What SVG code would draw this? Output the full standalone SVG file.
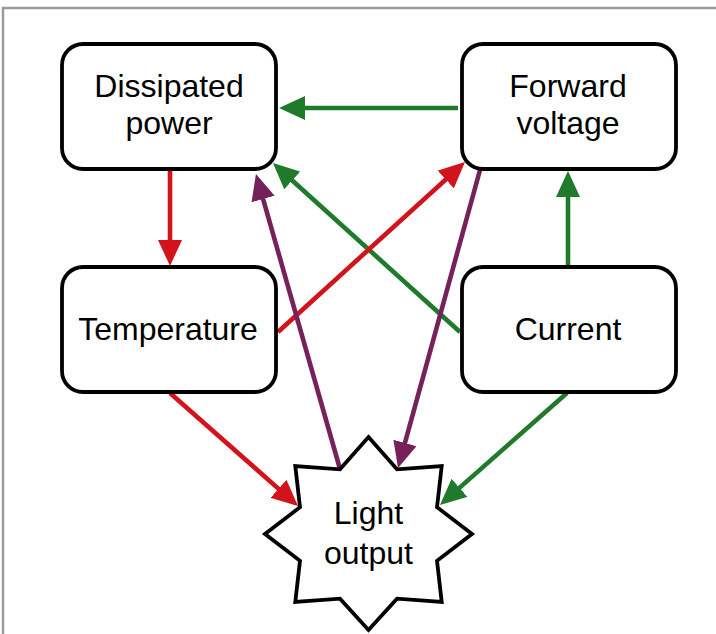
<svg xmlns="http://www.w3.org/2000/svg" width="716" height="634" viewBox="0 0 716 634">
  <style>
    .box { fill: #ffffff; stroke: #000000; stroke-width: 3.8; }
    .lbl { font-family: "Liberation Sans", Arial, sans-serif; font-size: 32px; fill: #000000; text-anchor: middle; }
    .c { fill: none; stroke-width: 4.6; stroke-linecap: butt; }
    .red { stroke: #d3131c; }
    .green { stroke: #1f7a2b; }
    .purple { stroke: #76225a; }
  </style>
  <defs>
    <marker id="ah-red" markerUnits="userSpaceOnUse" markerWidth="26" markerHeight="24" refX="16" refY="12" orient="auto">
      <path d="M0,0 L26,12 L0,24 z" fill="#d3131c"/>
    </marker>
    <marker id="ah-green" markerUnits="userSpaceOnUse" markerWidth="26" markerHeight="24" refX="16" refY="12" orient="auto">
      <path d="M0,0 L26,12 L0,24 z" fill="#1f7a2b"/>
    </marker>
    <marker id="ah-purple" markerUnits="userSpaceOnUse" markerWidth="26" markerHeight="24" refX="16" refY="12" orient="auto">
      <path d="M0,0 L26,12 L0,24 z" fill="#76225a"/>
    </marker>
  </defs>

  <rect x="0" y="0" width="716" height="634" fill="#ffffff"/>
  <polyline points="3,634 3,8 716,8" fill="none" stroke="#9a9a9a" stroke-width="2.5"/>

  <g id="connectors">
    <line class="c red" x1="170" y1="171" x2="170" y2="256" marker-end="url(#ah-red)"/>
    <line class="c green" x1="458" y1="108" x2="289" y2="108" marker-end="url(#ah-green)"/>
    <line class="c green" x1="568" y1="267" x2="568" y2="181" marker-end="url(#ah-green)"/>
    <line class="c green" x1="460" y1="332" x2="280.4" y2="169.7" marker-end="url(#ah-green)"/>
    <line class="c red" x1="278" y1="332" x2="457.6" y2="168.7" marker-end="url(#ah-red)"/>
    <line class="c purple" x1="340" y1="469" x2="258.7" y2="183.6" marker-end="url(#ah-purple)"/>
    <line class="c purple" x1="480" y1="170" x2="400.7" y2="458.4" marker-end="url(#ah-purple)"/>
    <line class="c red" x1="170" y1="393" x2="290.5" y2="499.4" marker-end="url(#ah-red)"/>
    <line class="c green" x1="567" y1="393" x2="447.5" y2="498.4" marker-end="url(#ah-green)"/>
  </g>

  <g id="dissipated-power">
    <rect class="box" x="62" y="44" width="214" height="125" rx="21" ry="21"/>
    <text class="lbl" x="169" y="97">Dissipated</text>
    <text class="lbl" x="169" y="134">power</text>
  </g>

  <g id="forward-voltage">
    <rect class="box" x="462" y="44" width="214" height="125" rx="21" ry="21"/>
    <text class="lbl" x="568" y="97">Forward</text>
    <text class="lbl" x="568" y="134">voltage</text>
  </g>

  <g id="temperature">
    <rect class="box" x="62" y="267" width="214" height="125" rx="21" ry="21"/>
    <text class="lbl" x="168" y="340">Temperature</text>
  </g>

  <g id="current">
    <rect class="box" x="462" y="267" width="214" height="125" rx="21" ry="21"/>
    <text class="lbl" x="568" y="340">Current</text>
  </g>

  <g id="light-output">
    <polygon class="box" points="368.5,437 397,469.3 441.7,466.1 437,507.2 472,534 437,560.8 441.7,601.9 397,598.7 368.5,630 340,598.7 295.3,601.9 300,560.8 265,534 300,507.2 295.3,466.1 340,469.3"/>
    <text class="lbl" x="368.5" y="524">Light</text>
    <text class="lbl" x="368.5" y="564">output</text>
  </g>
</svg>
